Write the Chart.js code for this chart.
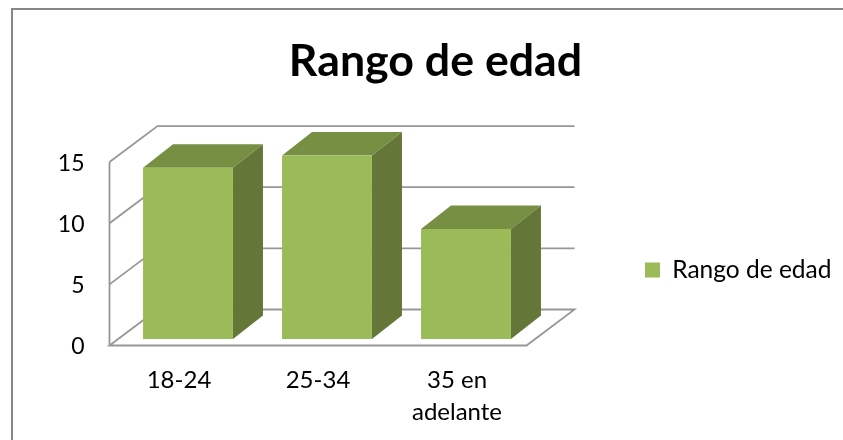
<!DOCTYPE html>
<html>
<head>
<meta charset="utf-8">
<style>
    html, body { margin: 0; padding: 0; background: #fff; overflow: hidden; width: 843px; height: 440px; }
    #box { position: absolute; left: 11px; top: 8px; width: 845px; height: 430px;
           border-left: 2px solid #868686; border-top: 2px solid #868686; }
</style>
<script src="https://cdn.jsdelivr.net/npm/chart.js@4"></script>
</head>
<body>
<div id="box"><canvas id="ageChart" width="845" height="430"></canvas></div>
<script>
const categories = ['18-24', '25-34', ['35 en', 'adelante']];
const seriesName = 'Rango de edad';
const seriesValues = [14, 15, 9];
const yTicks = [0, 5, 10, 15];

const FONT = 'Lato, sans-serif';
const GRID = '#979797';

// Caja 3D: el marco y las caras de las barras salen de las escalas
const frame3d = {
    id: 'frame3d',
    afterLayout(chart) {
        // Coloca la leyenda donde estaba en el original
        const legend = chart.legend;
        const h = legend.bottom - legend.top;
        legend.left = 622;
        legend.right = 835;
        legend.top = 260 - h / 2;
        legend.bottom = legend.top + h;
        // El titulo se centra sobre todo el lienzo, no solo sobre el area con padding
        chart.titleBlock.left = 0;
        chart.titleBlock.right = chart.width;
    },
    beforeDatasetsDraw(chart) {
        const { ctx, chartArea: a, scales: { y } } = chart;
        const front = { x: -9, y: 6.5 };
        const back = { x: 39, y: -29.5 };

        ctx.save();
        ctx.strokeStyle = GRID;
        ctx.lineWidth = 1.8;
        yTicks.forEach(v => {
            const py = y.getPixelForValue(v);
            ctx.beginPath();
            ctx.moveTo(a.left + front.x, py + front.y);
            ctx.lineTo(a.left + back.x, py + back.y);
            ctx.lineTo(a.right + back.x, py + back.y);
            if (v === 0) {
                ctx.lineTo(a.right + front.x, py + front.y);
                ctx.closePath();
            }
            ctx.stroke();
        });
        // Eje vertical del plano frontal
        ctx.beginPath();
        ctx.moveTo(a.left + front.x, y.getPixelForValue(15) + front.y);
        ctx.lineTo(a.left + front.x, y.getPixelForValue(0) + front.y);
        ctx.stroke();

        // Caras superior y lateral de cada barra
        const dx = 30, dy = -23.5;
        chart.getDatasetMeta(0).data.forEach(bar => {
            const l = bar.x - bar.width / 2;
            const r = bar.x + bar.width / 2;
            ctx.fillStyle = '#778F43';
            ctx.beginPath();
            ctx.moveTo(l, bar.y);
            ctx.lineTo(l + dx, bar.y + dy);
            ctx.lineTo(r + dx, bar.y + dy);
            ctx.lineTo(r, bar.y);
            ctx.closePath();
            ctx.fill();

            ctx.fillStyle = '#647638';
            ctx.beginPath();
            ctx.moveTo(r, bar.y);
            ctx.lineTo(r + dx, bar.y + dy);
            ctx.lineTo(r + dx, bar.base + dy);
            ctx.lineTo(r, bar.base);
            ctx.closePath();
            ctx.fill();
        });
        ctx.restore();
    }
};

new Chart(document.getElementById('ageChart'), {
    type: 'bar',
    data: {
        labels: categories,
        datasets: [{
            label: seriesName,
            data: seriesValues,
            backgroundColor: '#9BBB59',
            categoryPercentage: 1,
            barPercentage: 0.647
        }]
    },
    options: {
        responsive: false,
        animation: false,
        layout: { padding: { left: 0, right: 142, top: 0, bottom: 0 } },
        plugins: {
            title: {
                display: true,
                text: seriesName,
                color: '#000',
                font: { family: FONT, size: 44.7, weight: 'bold', lineHeight: 1.2 },
                padding: { top: 25, bottom: 66.9 }
            },
            legend: {
                position: 'right',
                fullSize: false,
                maxWidth: 180.5,
                labels: {
                    boxWidth: 15,
                    boxHeight: 15,
                    color: '#000',
                    font: { family: FONT, size: 24.5 }
                }
            },
            tooltip: { enabled: false }
        },
        scales: {
            x: {
                grid: { display: false, drawTicks: false },
                border: { display: false },
                ticks: {
                    color: '#000',
                    font: { family: FONT, size: 24, lineHeight: 1.33 },
                    padding: 25,
                    labelOffset: -9,
                    maxRotation: 0,
                    autoSkip: false
                },
                afterFit(scale) {
                    scale.height = 101;
                    scale.paddingLeft = 0;
                    scale.paddingRight = 0;
                }
            },
            y: {
                min: 0,
                max: 15,
                grid: { display: false, drawTicks: false },
                border: { display: false },
                ticks: {
                    color: '#000',
                    font: { family: FONT, size: 23 },
                    padding: 34,
                    stepSize: 5,
                    labelOffset: 8
                },
                afterFit(scale) {
                    scale.width = 105.5;
                    scale.paddingTop = 0;
                    scale.paddingBottom = 0;
                }
            }
        }
    },
    plugins: [frame3d]
});
</script>
</body>
</html>
